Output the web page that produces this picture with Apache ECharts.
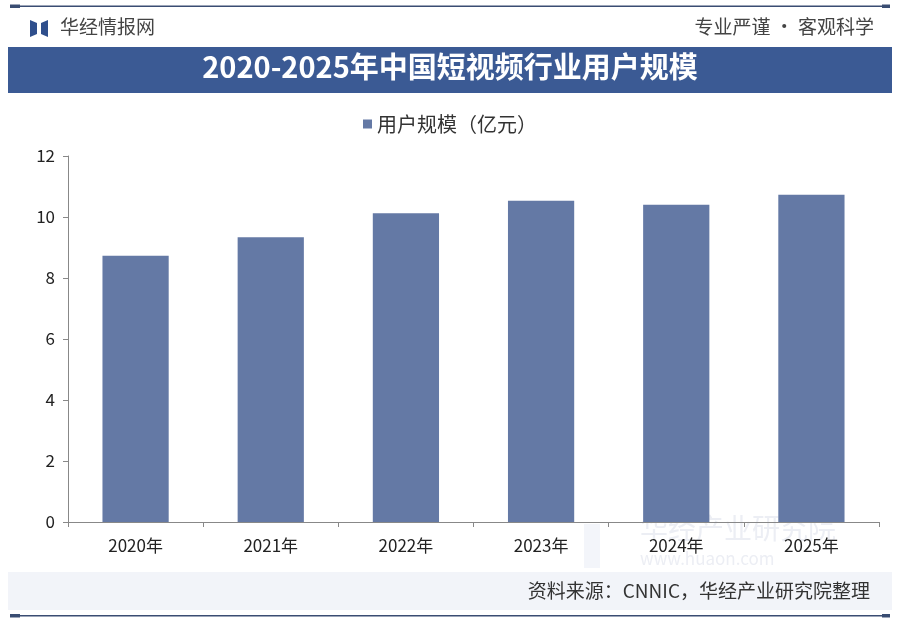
<!DOCTYPE html>
<html>
<head>
<meta charset="utf-8"/>
<style>
  html, body { margin: 0; padding: 0; background: #ffffff; }
  #main { width: 900px; height: 622px; }
</style>
</head>
<body>
<div id="main"></div>
<script src="https://cdn.jsdelivr.net/npm/echarts@6/dist/echarts.min.js"></script>
<script type="text/javascript">
// 数据
var years = ['2020年', '2021年', '2022年', '2023年', '2024年', '2025年'];
var userScale = [8.73, 9.34, 10.12, 10.53, 10.40, 10.73];
var seriesName = '用户规模（亿元）';
var chartTitle = '2020-2025年中国短视频行业用户规模';
var sourceText = '资料来源：CNNIC，华经产业研究院整理';

var font = '"Noto Sans CJK SC", "Noto Sans", sans-serif';
var navy = '#3b5a94';
var barColor = '#6479a5';

var myChart = echarts.init(document.getElementById('main'));

var options = {
  backgroundColor: '#ffffff',
  animation: false,
  legend: {
    data: [seriesName],
    top: 109,
    left: 'center',
    itemWidth: 9,
    itemHeight: 9,
    itemGap: 4,
    icon: 'rect',
    textStyle: { fontFamily: font, fontSize: 20, color: '#333' }
  },
  grid: { left: 68, right: 21, top: 156, bottom: 100 },
  xAxis: {
    type: 'category',
    data: years,
    axisLine: { lineStyle: { color: '#888', width: 1 } },
    axisTick: { show: true, alignWithLabel: false, length: 5, lineStyle: { color: '#888' } },
    axisLabel: { fontFamily: font, fontSize: 17, color: '#222', margin: 15 }
  },
  yAxis: {
    type: 'value',
    min: 0,
    max: 12,
    interval: 2,
    axisLine: { show: true, lineStyle: { color: '#888', width: 1 } },
    axisTick: { show: true, length: 5, lineStyle: { color: '#888' } },
    splitLine: { show: false },
    axisLabel: { fontFamily: font, fontSize: 17, color: '#222', margin: 13 }
  },
  series: [{
    name: seriesName,
    type: 'bar',
    data: userScale,
    barWidth: '49%',
    itemStyle: { color: barColor }
  }],
  graphic: [
    // 顶部细线
    { type: 'rect', shape: { x: 10, y: 5.5, width: 880, height: 1.5 }, style: { fill: '#3a4d72' } },
    { type: 'rect', shape: { x: 10, y: 4.5, width: 10, height: 3.5 }, style: { fill: '#3a4d72' } },
    { type: 'rect', shape: { x: 882, y: 4.5, width: 8, height: 3.5 }, style: { fill: '#3a4d72' } },
    // logo
    { type: 'polygon', shape: { points: [[30, 20], [37, 23], [37, 34], [30, 37]] }, style: { fill: '#2f4f8c' } },
    { type: 'polygon', shape: { points: [[48, 20], [41, 23], [41, 34], [48, 37]] }, style: { fill: '#2f4f8c' } },
    { type: 'text', left: 60, top: 17, style: { text: '华经情报网', font: '19px ' + font, fill: '#444' } },
    { type: 'text', right: 26, top: 17, style: { text: '专业严谨 • 客观科学', font: '19px ' + font, fill: '#444' } },
    // 标题栏
    { type: 'rect', shape: { x: 8, y: 47, width: 884, height: 46 }, style: { fill: navy } },
    { type: 'text', left: 'center', top: 52, style: { text: chartTitle, font: 'bold 29px "Noto Sans CJK SC", serif', fill: '#ffffff' } },
    // 水印
    { type: 'rect', shape: { x: 584, y: 524, width: 16, height: 44 }, style: { fill: '#f3f5fa' }, z: -1 },
    { type: 'text', left: 640, top: 514, z: -1, style: { text: '华经产业研究院', font: '28px ' + font, fill: '#eceef4' } },
    { type: 'text', left: 640, top: 550, z: -1, style: { text: 'www.huaon.com', font: '17px ' + font, fill: '#eceef4' } },
    // 底部来源栏
    { type: 'rect', shape: { x: 8, y: 572, width: 884, height: 38 }, style: { fill: '#f2f4f9' }, z: -2 },
    { type: 'text', right: 30, top: 581, style: { text: sourceText, font: '19px ' + font, fill: '#333' } },
    { type: 'rect', shape: { x: 10, y: 615, width: 880, height: 1.5 }, style: { fill: '#3a4d72' } },
    { type: 'rect', shape: { x: 10, y: 614, width: 10, height: 3.5 }, style: { fill: '#3a4d72' } },
    { type: 'rect', shape: { x: 882, y: 614, width: 8, height: 3.5 }, style: { fill: '#3a4d72' } }
  ]
};

myChart.setOption(options);
</script>
</body>
</html>
